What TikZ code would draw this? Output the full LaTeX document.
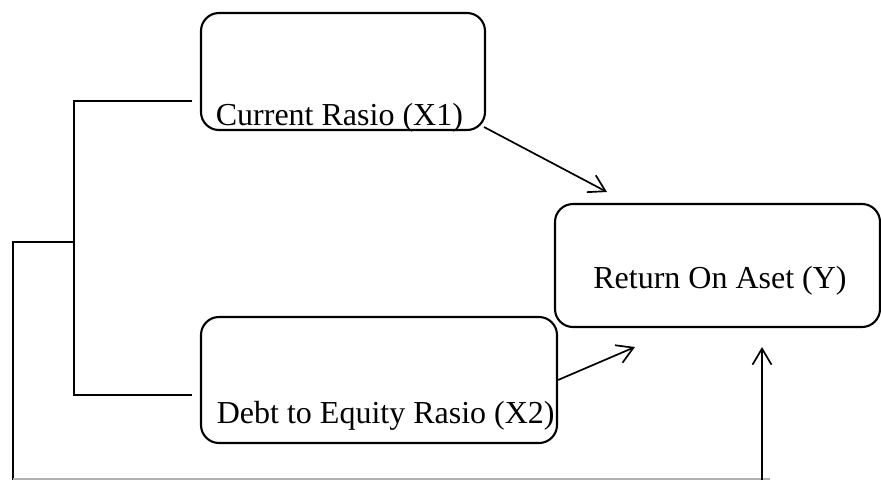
\documentclass[tikz,border=0pt]{standalone}
\usepackage{fontspec}
\setmainfont{Liberation Serif}
\usetikzlibrary{arrows.meta}
\begin{document}
\begin{tikzpicture}[x=1pt,y=-1pt,
  line width=1.7pt,
  boxstyle/.style={draw, rounded corners=18pt, inner sep=0pt, line width=2.1pt},
  lbl/.style={inner sep=0pt, font=\fontsize{32}{38}\selectfont},
  arr/.style={-{Straight Barb[length=16pt,width=19pt,line width=1.7pt]}},
  wire/.style={line width=1.7pt}]
\useasboundingbox (0,0) rectangle (881,480);
% boxes
\node[boxstyle, minimum width=284pt, minimum height=117pt] (b1) at (343,71.5) {};
\node[boxstyle, minimum width=356pt, minimum height=126pt] (b2) at (379,380) {};
\node[boxstyle, minimum width=325pt, minimum height=123pt] (b3) at (717.5,265.5) {};
% texts
\node[lbl, anchor=base west] (t1) at (215,125) {Current Rasio (X1)};
\node[lbl, anchor=base west] (t2) at (216,423) {Debt to Equity Rasio (X2)};
\node[lbl, anchor=base] (t3) at (720,288) {Return On Aset (Y)};
% coordinates
\coordinate (a1s) at (484,127);
\coordinate (a1e) at (607,192);
\coordinate (a2e) at (635,347);
\coordinate (bt) at (192,101);
\coordinate (bb) at (192,395);
\coordinate (bx) at (74,101);
\coordinate (by) at (74,395);
\coordinate (bm) at (74,242);
\coordinate (lm) at (13,242);
\coordinate (lb) at (13,480);
\coordinate (rb) at (762,480);
\coordinate (ra) at (762,347);
\coordinate (g1) at (13,479.2);
\coordinate (g2) at (770,479.2);
% connectors
\draw[arr] (a1s) -- (a1e);
\draw[arr] (b2.east) -- (a2e);
\draw[wire] (bt) -- (bx) -- (by) -- (bb);
\draw[wire] (bm) -- (lm) -- (lb);
\draw[draw=gray!60, line width=1.6pt] (g1) -- (g2);
\draw[arr] (rb) -- (ra);
\end{tikzpicture}
\end{document}
